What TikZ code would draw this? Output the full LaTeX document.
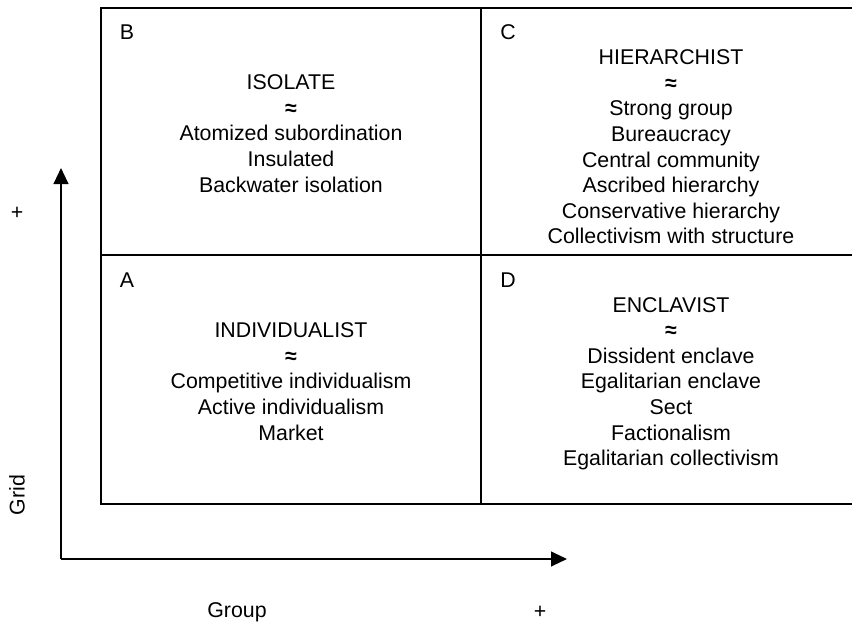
\documentclass[tikz,border=0pt]{standalone}
\usepackage{fontspec}
\setmainfont{Liberation Sans}
\usetikzlibrary{arrows.meta}
\newcommand{\apx}{{\fontsize{16}{19.2}\selectfont\textbf{≈}}}
\begin{document}
\begin{tikzpicture}[x=0.75pt,y=-0.75pt,
  frame/.style={line width=1.5pt},
  axisline/.style={line width=1.6pt,-{Triangle[length=12pt,width=11pt]}},
  cell/.style={align=center,inner sep=0pt,font=\fontsize{16}{19.2}\selectfont},
  letter/.style={inner sep=0pt,font=\fontsize{16}{19.2}\selectfont},
  axislabel/.style={inner sep=0pt,font=\fontsize{16}{19.2}\selectfont}]
\useasboundingbox (0,0) rectangle (852,624);
% frame
\coordinate (tl) at (101,8);
\coordinate (tr) at (853,8);
\coordinate (bl) at (101,503.5);
\coordinate (br) at (853,503.5);
\coordinate (mt) at (481,8);
\coordinate (mb) at (481,503.5);
\coordinate (ml) at (101,255);
\coordinate (mr) at (853,255);
\draw[frame] (tr) -- (tl) -- (bl) -- (br);
\draw[frame] (mt) -- (mb);
\draw[frame] (ml) -- (mr);
% axes
\coordinate (origin) at (61,559);
\coordinate (ytip) at (61,168);
\coordinate (xtip) at (567,559);
\draw[axisline] (origin) -- (ytip);
\draw[axisline] (origin) -- (xtip);
% letters
\node[letter] (lb) at (127,32) {B};
\node[letter] (lc) at (508,32) {C};
\node[letter] (la) at (127,280) {A};
\node[letter] (ld) at (508,280) {D};
% cells
\node[cell] (isolate) at (291,133.5) {ISOLATE\\\apx\\Atomized subordination\\Insulated\\Backwater isolation};
\node[cell] (hier) at (671,147) {HIERARCHIST\\\apx\\Strong group\\Bureaucracy\\Central community\\Ascribed hierarchy\\Conservative hierarchy\\Collectivism with structure};
\node[cell] (indiv) at (291,381.5) {INDIVIDUALIST\\\apx\\Competitive individualism\\Active individualism\\Market};
\node[cell,text depth=0pt] (encl) at (671,381.5) {ENCLAVIST\\\apx\\Dissident enclave\\Egalitarian enclave\\Sect\\Factionalism\\Egalitarian collectivism};
% axis labels
\node[axislabel] (yplus) at (17,213) {+};
\node[axislabel,rotate=90] (grid) at (17,495) {Grid};
\node[axislabel] (group) at (237,612) {Group};
\node[axislabel] (xplus) at (540,612) {+};
\end{tikzpicture}
\end{document}
